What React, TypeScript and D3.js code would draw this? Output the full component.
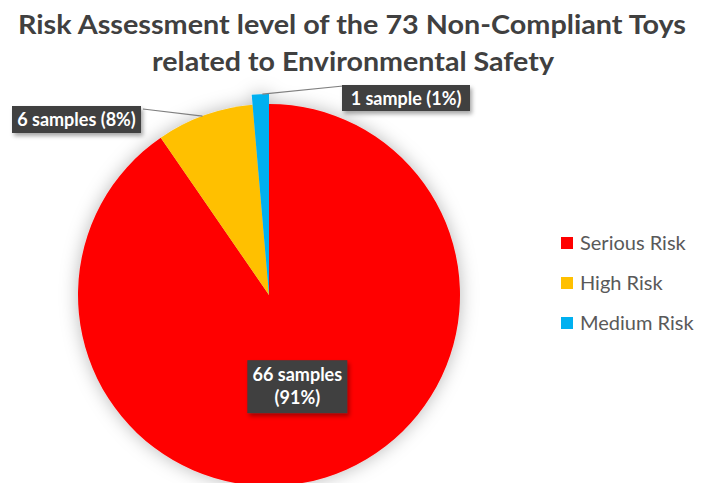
import React, { useEffect, useRef } from 'react';
import * as d3 from 'd3';

const categories = ['Serious Risk', 'High Risk', 'Medium Risk'];
const values = [66, 6, 1];
const labels = ['66 samples (91%)', '6 samples (8%)', '1 sample (1%)'];
const colors = ['#FF0000', '#FFC000', '#00B0F0'];
const titleLines = ['Risk Assessment level of the 73 Non-Compliant Toys', 'related to Environmental Safety'];

const width = 703;
const height = 483;
const cx = 269, cy = 295, radius = 191;

const App = () => {
    const ref = useRef<SVGSVGElement>(null);

    useEffect(() => {
        document.body.style.margin = '0';
        const svg = d3.select(ref.current);
        svg.selectAll('*').remove();

        const defs = svg.append('defs');
        defs.append('filter').attr('id', 'pieShadow')
            .attr('x', '-30%').attr('y', '-30%').attr('width', '160%').attr('height', '160%')
            .append('feDropShadow')
            .attr('dx', 0).attr('dy', 0).attr('stdDeviation', 9)
            .attr('flood-color', '#000').attr('flood-opacity', 0.28);
        defs.append('filter').attr('id', 'boxShadow')
            .attr('x', '-20%').attr('y', '-30%').attr('width', '140%').attr('height', '160%')
            .append('feDropShadow')
            .attr('dx', 2).attr('dy', 3).attr('stdDeviation', 2)
            .attr('flood-color', '#000').attr('flood-opacity', 0.35);

        svg.append('rect').attr('width', width).attr('height', height).attr('fill', '#fff');

        // title
        const title = svg.append('g')
            .attr('font-family', 'Lato, "Open Sans", sans-serif')
            .attr('font-weight', 'bold')
            .attr('font-size', 26)
            .attr('fill', '#404040')
            .attr('text-anchor', 'middle');
        title.append('text').attr('x', 352).attr('y', 34)
            .attr('textLength', 668).attr('lengthAdjust', 'spacingAndGlyphs').text(titleLines[0]);
        title.append('text').attr('x', 353).attr('y', 71)
            .attr('textLength', 402).attr('lengthAdjust', 'spacingAndGlyphs').text(titleLines[1]);

        const data = categories.map((c, i) => ({ name: c, value: values[i], label: labels[i], color: colors[i] }));
        const pie = d3.pie<any>().value(d => d.value).sort(null).startAngle(0).endAngle(2 * Math.PI);
        const arcs = pie(data);
        const arc = d3.arc<any>().innerRadius(0)
            .outerRadius((d: any) => d.data.name === 'Medium Risk' ? radius + 10 : radius);

        const g = svg.append('g').attr('transform', `translate(${cx},${cy})`);
        g.append('g').attr('filter', 'url(#pieShadow)')
            .selectAll('path')
            .data(arcs)
            .join('path')
            .attr('d', arc as any)
            .attr('fill', d => d.data.color);

        // leader lines
        const lines = svg.append('g').attr('stroke', '#7f7f7f').attr('stroke-width', 1.2).attr('fill', 'none');
        const labelArc = d3.arc<any>().innerRadius(radius / 2).outerRadius(radius / 2);
        const edge = (d: any, r: number) => {
            const a = (d.startAngle + d.endAngle) / 2;
            return [cx + r * Math.sin(a), cy - r * Math.cos(a)];
        };
        const pHigh = edge(arcs[1], radius);
        lines.append('path').attr('d', `M${pHigh[0] - 2},${pHigh[1] + 1} L143,109`);
        const pMed = edge(arcs[2], radius + 10);
        lines.append('path').attr('d', `M${pMed[0] + 2},${pMed[1]} L343,86`);

        // labels
        const boxes = [
            { x: cx + labelArc.centroid(arcs[0])[0] - 50, y: cy + labelArc.centroid(arcs[0])[1] - 26, w: 100, h: 53, lines: ['66 samples', '(91%)'] },
            { x: 12, y: 106, w: 129, h: 27, lines: [arcs[1].data.label] },
            { x: 342, y: 85, w: 128, h: 26, lines: [arcs[2].data.label] },
        ];
        const lab = svg.append('g')
            .attr('font-family', 'Lato, "Open Sans", sans-serif')
            .attr('font-weight', 'bold')
            .attr('font-size', 18);
        boxes.forEach(b => {
            lab.append('rect').attr('x', b.x).attr('y', b.y).attr('width', b.w).attr('height', b.h)
                .attr('fill', '#404040').attr('filter', 'url(#boxShadow)');
            b.lines.forEach((t, i) => {
                lab.append('text')
                    .attr('x', b.x + b.w / 2)
                    .attr('y', b.y + (b.lines.length === 1 ? b.h / 2 + 6.5 : 21 + i * 23))
                    .attr('text-anchor', 'middle')
                    .attr('fill', '#fff')
                    .text(t);
            });
        });

        // legend
        const legend = svg.append('g')
            .attr('font-family', 'Lato, "Open Sans", sans-serif')
            .attr('font-size', 20)
            .attr('fill', '#595959');
        data.forEach((d, i) => {
            const y = 243 + i * 40;
            legend.append('rect').attr('x', 561).attr('y', y - 6).attr('width', 12).attr('height', 12).attr('fill', d.color);
            legend.append('text').attr('x', 580).attr('y', y + 7).text(d.name);
        });
    }, []);

    return (
        <svg ref={ref} width={width} height={height} style={{ display: 'block' }} />
    );
};

export default App;
